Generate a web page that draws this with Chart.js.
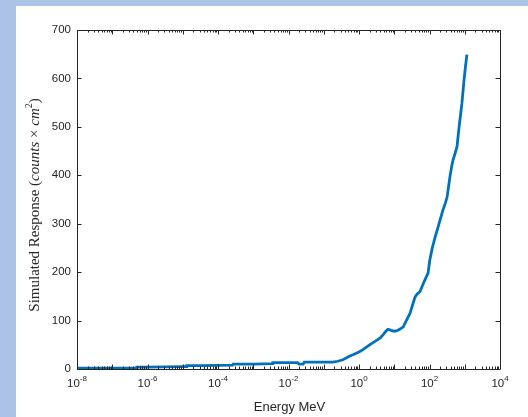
<!DOCTYPE html>
<html>
<head>
<meta charset="utf-8">
<script src="https://cdn.jsdelivr.net/npm/chart.js@4"></script>
<style>
  html, body { margin: 0; padding: 0; }
  body { width: 528px; height: 417px; background: #adc2e7; position: relative; overflow: hidden; }
  #fig { position: absolute; left: 16px; top: 6px; width: 512px; height: 411px; background: #ffffff; }
  canvas { display: block; }
</style>
</head>
<body>
<div id="fig"><canvas id="c" width="512" height="411"></canvas></div>
<script>
// Simulated detector response versus incident energy
const energyMeV = [
  1e-8, 3e-8, 1e-7, 3e-7, 4.9e-7, 5e-7, 1e-6, 3e-6, 1e-5, 1.25e-5, 1.3e-5, 3e-5, 1e-4,
  2.6e-4, 2.7e-4, 1e-3, 3.5e-3, 3.6e-3, 1e-2, 1.8e-2, 2e-2, 2.6e-2, 2.8e-2, 0.1, 0.18,
  0.25, 0.35, 0.55, 0.7, 1, 1.3, 1.7, 2.2, 3, 4, 5, 5.8, 6.6, 7.5, 8.5, 10, 12, 15, 18,
  22, 28, 33, 39, 45, 54, 70, 91, 102, 120, 145, 170, 200, 240, 280, 316, 380, 430,
  467, 530, 603, 692, 760, 832, 955, 1050, 1150
];
const responseCounts = [
  1.5, 1.5, 2, 2, 2, 4, 4, 4.5, 5, 5, 7, 7, 7.5,
  8, 10, 10, 11, 13, 13, 13, 10, 10, 14, 14, 14,
  16, 19, 27, 30, 35, 40, 46, 52, 58, 64, 72, 78, 82, 81, 79, 78, 79, 83, 87,
  100, 115, 132, 149, 155, 160, 180, 198, 225, 250, 273, 290, 308, 328, 342, 355, 397, 420,
  432, 445, 459, 500, 525, 549, 597, 625, 649
];
const yTickValues = [0, 100, 200, 300, 400, 500, 600, 700];
const xDecades = [-8, -7, -6, -5, -4, -3, -2, -1, 0, 1, 2, 3, 4];
const xLabelDecades = [-8, -6, -4, -2, 0, 2, 4];
const xTitle = 'Energy MeV';
const yTitleParts = [
  { t: 'Simulated Response ', f: '15px "Liberation Serif"' },
  { t: '(', f: '15px "Liberation Serif"' },
  { t: 'counts', f: 'italic 15px "Liberation Serif"' },
  { t: ' \u00d7 ', f: '15px "Liberation Serif"' },
  { t: 'cm', f: 'italic 15px "Liberation Serif"' },
  { t: '2', f: '10px "Liberation Serif"', sup: true },
  { t: ')', f: '15px "Liberation Serif"' }
];

const axisColor = '#262626';
const lineColor = '#0072bd';

const points = energyMeV.map((e, i) => ({ x: e, y: responseCounts[i] }));

// Box, inward tick marks, superscripted log labels and titles
const axesPlugin = {
  id: 'axesPlugin',
  afterDraw(chart) {
    const { ctx, chartArea: a } = chart;
    const xs = chart.scales.x, ys = chart.scales.y;
    const major = 4.5, minor = 2.5;
    ctx.save();
    ctx.strokeStyle = axisColor;
    ctx.lineWidth = 1;
    ctx.beginPath();
    ctx.rect(Math.round(a.left) + 0.5, Math.round(a.top) + 0.5,
             Math.round(a.right - a.left), Math.round(a.bottom - a.top));
    ctx.stroke();

    ctx.beginPath();
    xDecades.forEach(d => {
      const px = Math.round(xs.getPixelForValue(Math.pow(10, d))) + 0.5;
      ctx.moveTo(px, a.bottom); ctx.lineTo(px, a.bottom - major);
      ctx.moveTo(px, a.top); ctx.lineTo(px, a.top + major);
      if (d < 4) {
        for (let m = 2; m <= 9; m++) {
          const pm = Math.round(xs.getPixelForValue(m * Math.pow(10, d))) + 0.5;
          ctx.moveTo(pm, a.bottom); ctx.lineTo(pm, a.bottom - minor);
          ctx.moveTo(pm, a.top); ctx.lineTo(pm, a.top + minor);
        }
      }
    });
    yTickValues.forEach(v => {
      const py = Math.round(ys.getPixelForValue(v)) + 0.5;
      ctx.moveTo(a.left, py); ctx.lineTo(a.left + major, py);
      ctx.moveTo(a.right, py); ctx.lineTo(a.right - major, py);
    });
    ctx.stroke();

    // x tick labels: 10 with raised exponent
    ctx.fillStyle = axisColor;
    ctx.textBaseline = 'alphabetic';
    ctx.textAlign = 'left';
    const baseFont = '11.5px "Liberation Sans"', expFont = '8px "Liberation Sans"';
    xLabelDecades.forEach(d => {
      const px = xs.getPixelForValue(Math.pow(10, d));
      const exp = String(d);
      ctx.font = baseFont;
      const wb = ctx.measureText('10').width;
      ctx.font = expFont;
      const we = ctx.measureText(exp).width;
      const x0 = px - (wb + we) / 2;
      const base = a.bottom + 18;
      ctx.font = baseFont;
      ctx.fillText('10', x0, base);
      ctx.font = expFont;
      ctx.fillText(exp, x0 + wb, base - 6);
    });

    // x title
    ctx.font = '13px "Liberation Sans"';
    ctx.textAlign = 'center';
    ctx.textBaseline = 'middle';
    ctx.fillText(xTitle, (a.left + a.right) / 2 + 1, a.bottom + 38);

    // y title, rotated
    ctx.translate(19, 199);
    ctx.rotate(-Math.PI / 2);
    let total = 0;
    yTitleParts.forEach(p => { ctx.font = p.f; total += ctx.measureText(p.t).width; });
    let cx = -total / 2;
    ctx.textAlign = 'left';
    ctx.textBaseline = 'middle';
    yTitleParts.forEach(p => {
      ctx.font = p.f;
      ctx.fillText(p.t, cx, p.sup ? -6 : 0);
      cx += ctx.measureText(p.t).width;
    });
    ctx.restore();
  }
};

new Chart(document.getElementById('c'), {
  type: 'line',
  data: {
    datasets: [{
      data: points,
      borderColor: lineColor,
      borderWidth: 2.8,
      pointRadius: 0,
      tension: 0,
      fill: false
    }]
  },
  options: {
    responsive: false,
    animation: false,
    layout: { padding: { left: 0, right: 28, top: 24, bottom: 48 } },
    plugins: { legend: { display: false }, tooltip: { enabled: false } },
    scales: {
      x: {
        type: 'logarithmic',
        min: 1e-8,
        max: 1e4,
        display: false
      },
      y: {
        min: 0,
        max: 700,
        afterFit: s => { s.width = 61; },
        afterBuildTicks: s => { s.ticks = yTickValues.map(v => ({ value: v })); },
        grid: { display: false, drawTicks: false },
        border: { display: false },
        ticks: {
          padding: 6,
          color: axisColor,
          font: { family: 'Liberation Sans', size: 11.5 }
        }
      }
    }
  },
  plugins: [axesPlugin]
});
</script>
</body>
</html>
